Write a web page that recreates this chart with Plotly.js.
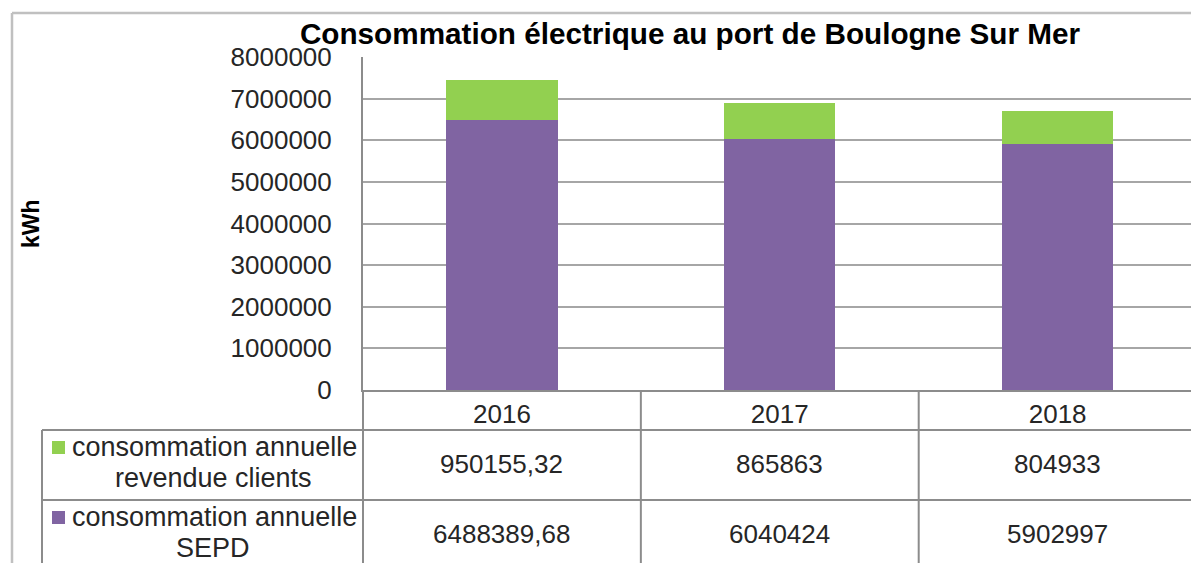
<!DOCTYPE html>
<html>
<head>
<meta charset="utf-8">
<script src="https://cdn.plot.ly/plotly-3.0.1.min.js"></script>
<style>
html,body{margin:0;padding:0;background:#fff;}
#chart{width:1191px;height:563px;}
</style>
</head>
<body>
<div id="chart"></div>
<script>
// ---- data ----
const years = ['2016', '2017', '2018'];
const seriesNames = ['consommation annuelle SEPD', 'consommation annuelle revendue clients'];
const sepd = [6488389.68, 6040424, 5902997];
const revendue = [950155.32, 865863, 804933];
const yTicks = [0, 1000000, 2000000, 3000000, 4000000, 5000000, 6000000, 7000000, 8000000];

const green = '#92D050';
const purple = '#8064A2';
const lineGray = '#8c8c8c';
const gridGray = '#a6a6a6';

// page geometry helpers (pixel -> paper)
const W = 1191, H = 563;
const L = 363, R = 1191, T = 57, B = 390;
const px = v => (v - L) / (R - L);
const py = v => (B - v) / (B - T);
const xRange = [-0.5, 2.48];
const catPaper = i => (i - xRange[0]) / (xRange[1] - xRange[0]);

function fmt(v) { return String(v).replace('.', ','); }

const traces = [
  {type: 'bar', name: seriesNames[0], x: years, y: sepd, marker: {color: purple}, hoverinfo: 'skip'},
  {type: 'bar', name: seriesNames[1], x: years, y: revendue, marker: {color: green}, hoverinfo: 'skip'}
];

const numFont = {family: '"Liberation Sans", Arial, sans-serif', size: 26, color: '#262626'};
const labFont = {family: '"Liberation Sans", Arial, sans-serif', size: 27, color: '#262626'};

const annotations = [];
// data table values
[revendue, sepd].forEach((arr, r) => {
  const yc = r === 0 ? 464 : 534;
  arr.forEach((v, i) => {
    annotations.push({xref: 'paper', yref: 'paper', x: catPaper(i), y: py(yc), text: fmt(v),
      showarrow: false, font: numFont, xanchor: 'center', yanchor: 'middle'});
  });
});
// row labels
const rowLabels = [
  ['consommation annuelle', 'revendue clients', green, 447, 478],
  ['consommation annuelle', 'SEPD', purple, 517, 548]
];
const shapes = [];
rowLabels.forEach(([l1, l2, c, y1, y2]) => {
  annotations.push({xref: 'paper', yref: 'paper', x: px(214), y: py(y1), text: l1, showarrow: false,
    font: labFont, xanchor: 'center', yanchor: 'middle'});
  annotations.push({xref: 'paper', yref: 'paper', x: px(213), y: py(y2), text: l2, showarrow: false,
    font: labFont, xanchor: 'center', yanchor: 'middle'});
  shapes.push({type: 'rect', xref: 'paper', yref: 'paper', x0: px(52), x1: px(65), y0: py(y1 + 7), y1: py(y1 - 6),
    fillcolor: c, line: {width: 0}});
});
// y axis title
annotations.push({xref: 'paper', yref: 'paper', x: px(31), y: py(224), text: '<b>kWh</b>', textangle: -90,
  showarrow: false, font: {family: '"Liberation Sans", Arial, sans-serif', size: 23, color: '#000'},
  xanchor: 'center', yanchor: 'middle'});

// outer chart border
shapes.push({type: 'line', xref: 'paper', yref: 'paper', x0: px(12), x1: px(12), y0: py(13), y1: py(H + 5), line: {color: '#c0c0c0', width: 2.5}});
shapes.push({type: 'line', xref: 'paper', yref: 'paper', x0: px(12), x1: px(W + 5), y0: py(13), y1: py(13), line: {color: '#c0c0c0', width: 2.5}});
// table lines
const tl = {color: lineGray, width: 2};
shapes.push({type: 'line', xref: 'paper', yref: 'paper', x0: 0, x1: 0, y0: 0, y1: py(H + 5), line: tl});
shapes.push({type: 'line', xref: 'paper', yref: 'paper', x0: px(42), x1: px(42), y0: py(430), y1: py(H + 5), line: tl});
shapes.push({type: 'line', xref: 'paper', yref: 'paper', x0: px(42), x1: px(W + 5), y0: py(430), y1: py(430), line: tl});
shapes.push({type: 'line', xref: 'paper', yref: 'paper', x0: px(42), x1: px(W + 5), y0: py(500), y1: py(500), line: tl});
[0.5, 1.5].forEach(b => {
  shapes.push({type: 'line', xref: 'x', yref: 'paper', x0: b, x1: b, y0: 0, y1: py(H + 5), line: tl});
});

const layout = {
  width: W, height: H,
  margin: {l: L, r: W - R, t: T, b: H - B, pad: 0},
  paper_bgcolor: '#fff', plot_bgcolor: '#fff',
  barmode: 'stack', bargap: 0.6,
  showlegend: false,
  font: {family: '"Liberation Sans", Arial, sans-serif', color: '#262626'},
  title: {text: '<b>Consommation électrique au port de Boulogne Sur Mer</b>',
    font: {family: '"Liberation Sans", Arial, sans-serif', size: 29.7, color: '#000'},
    xref: 'container', yref: 'container', x: 690 / W, y: 1 - 34 / H, xanchor: 'center', yanchor: 'middle'},
  xaxis: {type: 'category', range: xRange, showgrid: false, zeroline: false,
    showline: true, linecolor: lineGray, linewidth: 2, ticks: '',
    tickfont: numFont, ticklabelstandoff: 0, fixedrange: true},
  yaxis: {range: [0, 8000000], tickvals: yTicks, ticktext: yTicks.map(String),
    showgrid: true, gridcolor: gridGray, gridwidth: 2, zeroline: false,
    showline: true, linecolor: lineGray, linewidth: 2, ticks: '',
    tickfont: {family: '"Liberation Sans", Arial, sans-serif', size: 26, color: '#262626'},
    ticklabelstandoff: 24, fixedrange: true},
  annotations: annotations,
  shapes: shapes
};

Plotly.newPlot('chart', traces, layout, {displayModeBar: false, staticPlot: true});
</script>
</body>
</html>
